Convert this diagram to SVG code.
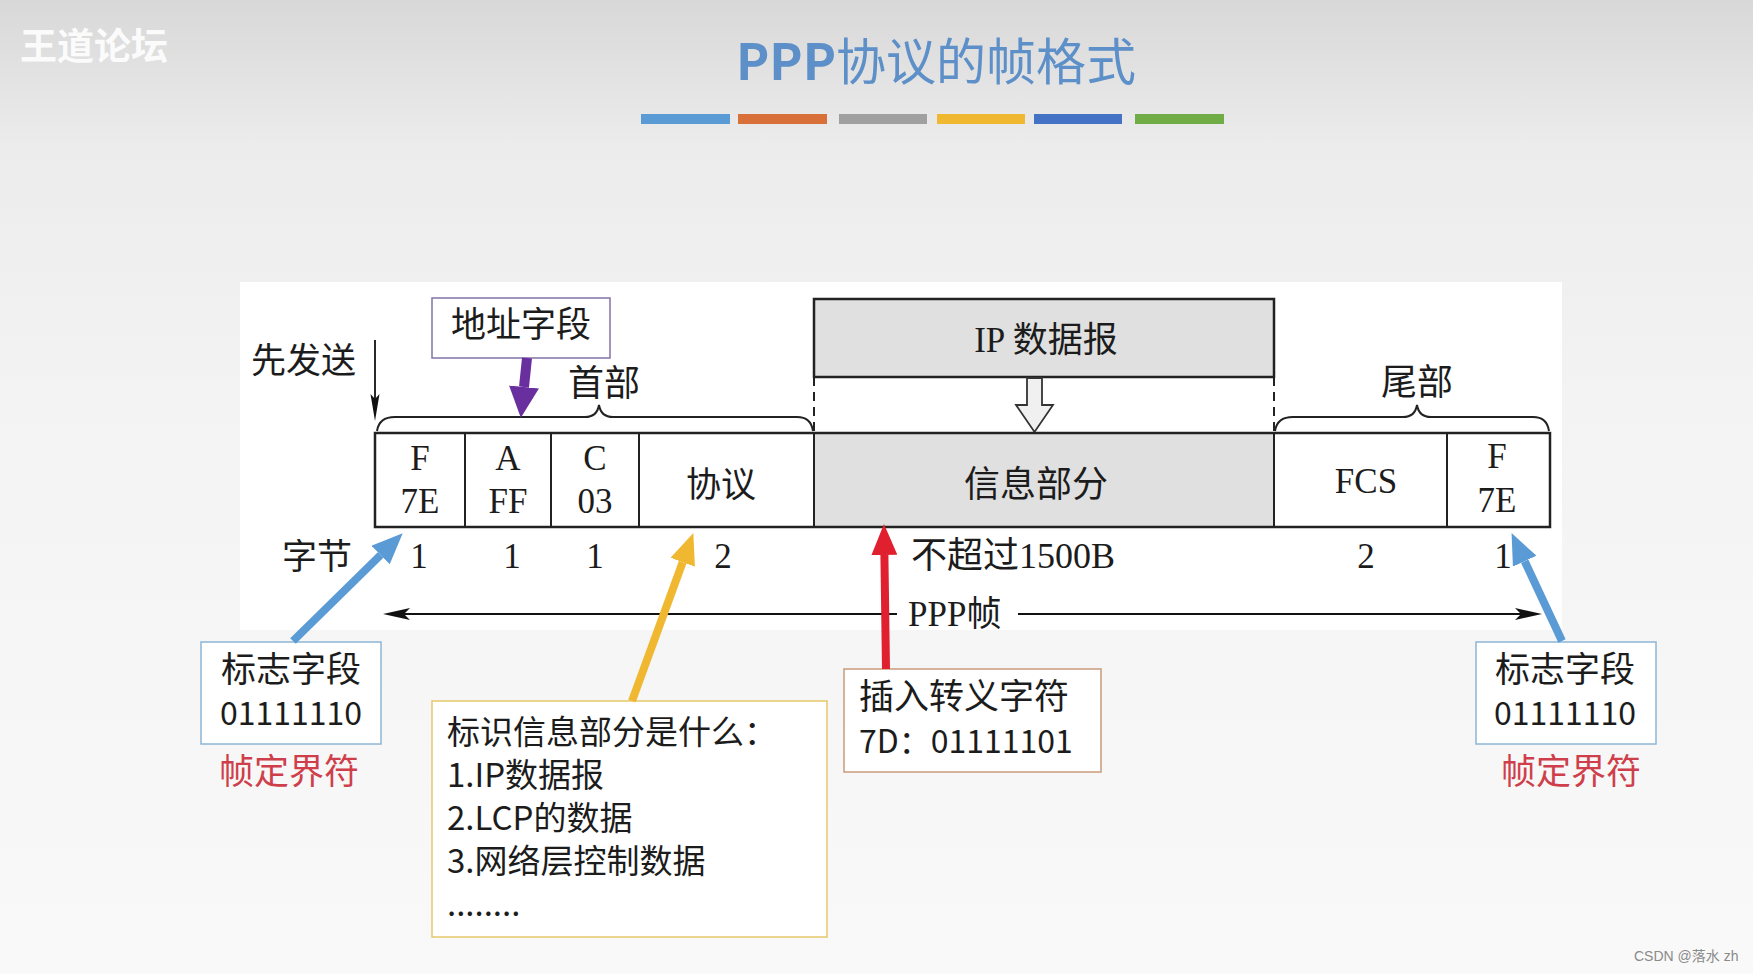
<svg xmlns="http://www.w3.org/2000/svg" width="1753" height="974" viewBox="0 0 1753 974">
<defs>
<linearGradient id="bg" x1="0" y1="0" x2="0" y2="1">
<stop offset="0" stop-color="#d8d8d8"/>
<stop offset="0.15" stop-color="#ececec"/>
<stop offset="0.4" stop-color="#f3f3f3"/>
<stop offset="1" stop-color="#f9f9f9"/>
</linearGradient>
<marker id="mBlue" markerUnits="userSpaceOnUse" markerWidth="32" markerHeight="26" refX="0" refY="13" orient="auto"><path d="M0,0 L31,13 L0,26 Z" fill="#5b9bd5"/></marker>
<marker id="mYellow" markerUnits="userSpaceOnUse" markerWidth="32" markerHeight="26" refX="0" refY="13" orient="auto"><path d="M0,0 L31,13 L0,26 Z" fill="#f0b830"/></marker>
<marker id="mRed" markerUnits="userSpaceOnUse" markerWidth="32" markerHeight="26" refX="0" refY="13" orient="auto"><path d="M0,0 L31,13 L0,26 Z" fill="#e0202e"/></marker>
<marker id="mPurple" markerUnits="userSpaceOnUse" markerWidth="32" markerHeight="30" refX="0" refY="15" orient="auto"><path d="M0,0 L31,15 L0,30 Z" fill="#6a2f9e"/></marker>
<marker id="mBlack" markerUnits="userSpaceOnUse" markerWidth="28" markerHeight="14" refX="6" refY="7" orient="auto"><path d="M0,1 L27,7 L0,13 L6,7 Z" fill="#111"/></marker>
<marker id="mBlackS" markerUnits="userSpaceOnUse" markerWidth="28" markerHeight="10" refX="5" refY="5" orient="auto"><path d="M0,0.5 L27,5 L0,9.5 L5,5 Z" fill="#111"/></marker>
</defs>
<style>
.serif{font-family:"Liberation Serif","Noto Sans CJK SC",serif;fill:#1c1c1c;}
.sans{font-family:"Noto Sans CJK SC","Noto Sans",sans-serif;fill:#1c1c1c;}
.frame{fill:none;stroke:#222;stroke-width:2.5;}
.div{stroke:#222;stroke-width:2;}
.brace{fill:none;stroke:#222;stroke-width:2;}
.red{fill:#cf3f4b;}
</style>
<rect x="0" y="0" width="1753" height="974" fill="url(#bg)"/>
<g id="watermark">
<text x="20" y="60" font-family="'Noto Sans CJK SC',sans-serif" font-size="37" font-weight="bold" fill="#fbfbfb">王道论坛</text>
<text x="1634" y="961" font-family="'Liberation Sans','Noto Sans CJK SC',sans-serif" font-size="14" fill="#8a8a8a">CSDN @落水 zh</text>
</g>
<g id="title">
<text x="736" y="80" font-family="'Noto Sans CJK SC',sans-serif" font-size="50" fill="#5d8fc8"><tspan font-weight="bold">PPP</tspan>协议的帧格式</text>
<rect x="641" y="114" width="89" height="10" fill="#5b9bd5"/>
<rect x="738" y="114" width="89" height="10" fill="#d9703a"/>
<rect x="839" y="114" width="88" height="10" fill="#a0a0a0"/>
<rect x="937" y="114" width="88" height="10" fill="#f0b830"/>
<rect x="1034" y="114" width="88" height="10" fill="#4472c4"/>
<rect x="1135" y="114" width="89" height="10" fill="#70ad47"/>
</g>
<rect id="panel" x="240" y="282" width="1322" height="348" fill="#ffffff"/>
<g id="ip-datagram">
<rect x="814" y="299" width="460" height="78" fill="#e0e0e0" stroke="#222" stroke-width="2.5"/>
<text class="serif" x="1046" y="352" font-size="35" text-anchor="middle">IP 数据报</text>
<line x1="814" y1="377" x2="814" y2="433" stroke="#222" stroke-width="2" stroke-dasharray="9 6"/>
<line x1="1274" y1="377" x2="1274" y2="433" stroke="#222" stroke-width="2" stroke-dasharray="9 6"/>
<polygon points="1027,378 1042,378 1042,405 1053,405 1034.5,432 1016,405 1027,405" fill="#f0f0f0" stroke="#333" stroke-width="1.8"/>
</g>
<g id="frame">
<rect x="814" y="433" width="460" height="94" fill="#e0e0e0"/>
<rect class="frame" x="375" y="433" width="1175" height="94"/>
<line class="div" x1="465" y1="433" x2="465" y2="527"/>
<line class="div" x1="551" y1="433" x2="551" y2="527"/>
<line class="div" x1="639" y1="433" x2="639" y2="527"/>
<line class="div" x1="814" y1="433" x2="814" y2="527"/>
<line class="div" x1="1274" y1="433" x2="1274" y2="527"/>
<line class="div" x1="1447" y1="433" x2="1447" y2="527"/>
<text class="serif" font-size="35" text-anchor="middle"><tspan x="420" y="470">F</tspan><tspan x="420" y="513">7E</tspan></text>
<text class="serif" font-size="35" text-anchor="middle"><tspan x="508" y="470">A</tspan><tspan x="508" y="513">FF</tspan></text>
<text class="serif" font-size="35" text-anchor="middle"><tspan x="595" y="470">C</tspan><tspan x="595" y="513">03</tspan></text>
<text class="serif" x="721" y="497" font-size="35" text-anchor="middle">协议</text>
<text class="serif" x="1036" y="497" font-size="36" text-anchor="middle">信息部分</text>
<text class="serif" x="1366" y="493" font-size="35" text-anchor="middle">FCS</text>
<text class="serif" font-size="35" text-anchor="middle"><tspan x="1497" y="468">F</tspan><tspan x="1497" y="512">7E</tspan></text>
</g>
<g id="header-brace">
<path class="brace" d="M377,431 Q379,417 395,417 L585,417 Q597,417 599,405 Q601,417 613,417 L797,417 Q811,417 813,431"/>
<text class="serif" x="604" y="396" font-size="36" text-anchor="middle">首部</text>
</g>
<g id="trailer-brace">
<path class="brace" d="M1275,431 Q1277,417 1293,417 L1403,417 Q1415,417 1417,405 Q1419,417 1431,417 L1533,417 Q1547,417 1549,431"/>
<text class="serif" x="1417" y="395" font-size="36" text-anchor="middle">尾部</text>
</g>
<g id="send-first">
<text class="serif" x="251" y="373" font-size="35">先发送</text>
</g>
<g id="byte-row">
<text class="serif" x="317" y="569" font-size="35" text-anchor="middle">字节</text>
<text class="serif" font-size="35" text-anchor="middle" y="568"><tspan x="419">1</tspan><tspan x="512">1</tspan><tspan x="595">1</tspan><tspan x="723">2</tspan><tspan x="1366">2</tspan><tspan x="1503">1</tspan></text>
<text class="serif" x="911" y="568" font-size="36">不超过1500B</text>
<text class="serif" x="908" y="626" font-size="35">PPP帧</text>
</g>
<g id="address-field">
<rect x="432" y="298" width="178" height="60" fill="#ffffff" stroke="#8373a6" stroke-width="1.5"/>
<text class="serif" x="521" y="337" font-size="35" text-anchor="middle">地址字段</text>
</g>
<g id="flag-left">
<rect x="201" y="642" width="180" height="102" fill="#ffffff" stroke="#8db7d6" stroke-width="1.5"/>
<text class="sans" x="291" y="682" font-size="35" text-anchor="middle">标志字段</text>
<text class="sans" x="291" y="725" font-size="32" text-anchor="middle">01111110</text>
<text class="sans red" x="289" y="784" font-size="35" text-anchor="middle">帧定界符</text>
</g>
<g id="flag-right">
<rect x="1476" y="642" width="180" height="102" fill="#ffffff" stroke="#8db7d6" stroke-width="1.5"/>
<text class="sans" x="1565" y="682" font-size="35" text-anchor="middle">标志字段</text>
<text class="sans" x="1565" y="725" font-size="32" text-anchor="middle">01111110</text>
<text class="sans red" x="1571" y="784" font-size="35" text-anchor="middle">帧定界符</text>
</g>
<g id="protocol-note">
<rect x="432" y="701" width="395" height="236" fill="#ffffff" stroke="#e6c76a" stroke-width="1.5"/>
<text class="sans" font-size="33"><tspan x="447" y="744">标识信息部分是什么：</tspan><tspan x="447" y="787">1.IP数据报</tspan><tspan x="447" y="830">2.LCP的数据</tspan><tspan x="447" y="873">3.网络层控制数据</tspan><tspan x="447" y="916">........</tspan></text>
</g>
<g id="escape-note">
<rect x="844" y="669" width="257" height="103" fill="#ffffff" stroke="#c99a7a" stroke-width="1.5"/>
<text class="sans" x="859" y="709" font-size="35">插入转义字符</text>
<text class="sans" x="859" y="753" font-size="32">7D：01111101</text>
</g>
<g id="connectors">
<line x1="375" y1="340" x2="375" y2="399" stroke="#111" stroke-width="1.8" marker-end="url(#mBlackS)"/>
<line x1="897" y1="614" x2="404" y2="614" stroke="#111" stroke-width="2" marker-end="url(#mBlack)"/>
<line x1="1018" y1="614" x2="1521" y2="614" stroke="#111" stroke-width="2" marker-end="url(#mBlack)"/>
<line x1="527" y1="358" x2="524" y2="387" stroke="#6a2f9e" stroke-width="10" marker-end="url(#mPurple)"/>
<line x1="293" y1="641" x2="380.6" y2="555" stroke="#5b9bd5" stroke-width="8" marker-end="url(#mBlue)"/>
<line x1="632" y1="701" x2="682.7" y2="562.2" stroke="#f0b830" stroke-width="8" marker-end="url(#mYellow)"/>
<line x1="886" y1="669" x2="884.4" y2="555" stroke="#e0202e" stroke-width="8" marker-end="url(#mRed)"/>
<line x1="1562" y1="641" x2="1524.7" y2="561.2" stroke="#5b9bd5" stroke-width="8" marker-end="url(#mBlue)"/>
</g>
</svg>
